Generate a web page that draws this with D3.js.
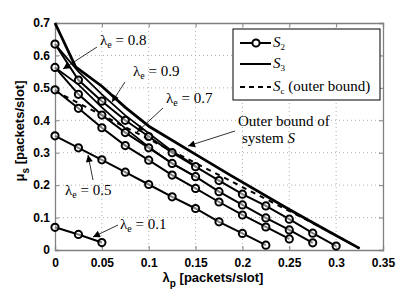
<html>
<head>
<meta charset="utf-8">
<script src="https://d3js.org/d3.v7.min.js"></script>
<style>
body { margin: 0; background: #fff; }
.tick text { font-family: "Liberation Sans", Arial, sans-serif; font-weight: bold; font-size: 12px; fill: #000; }
.ann { font-family: "Liberation Serif", "DejaVu Serif", serif; font-size: 15px; }
</style>
</head>
<body>
<svg width="415" height="293"></svg>
<script>
// values
var lambdaP = [0, 0.025, 0.05, 0.075, 0.1, 0.125, 0.15, 0.175, 0.2, 0.225, 0.25, 0.275, 0.3];
var s2_e01 = [0.07, 0.048, 0.023];
var s2_e05 = [0.352, 0.315, 0.278, 0.24, 0.202, 0.164, 0.128, 0.087, 0.051, 0.015];
var s2_e07 = [0.494, 0.437, 0.377, 0.322, 0.277, 0.231, 0.19, 0.148, 0.108, 0.071, 0.034];
var s2_e08 = [0.563, 0.48, 0.416, 0.362, 0.315, 0.267, 0.226, 0.18, 0.139, 0.099, 0.062, 0.022];
var s2_e09 = [0.635, 0.524, 0.459, 0.40, 0.35, 0.30, 0.257, 0.214, 0.172, 0.136, 0.095, 0.052, 0.012];

var s3X = [0, 0.025, 0.05, 0.075, 0.1, 0.125, 0.15];
var s3_e08 = [0.563, 0.51, 0.44, 0.375, 0.318, 0.267, 0.226];
var s3_e09 = [0.635, 0.55, 0.48, 0.415, 0.36, 0.305, 0.259];

var outerX = [0, 0.022, 0.05, 0.075, 0.101, 0.15, 0.187, 0.25, 0.2935, 0.325];
var outerY = [0.7, 0.565, 0.505, 0.44, 0.38, 0.295, 0.231, 0.125, 0.055, 0.005];

var scX = [0, 0.29, 0.325];
var scY = [0.49, 0.061, 0.005];

var xTicks = [0, 0.05, 0.1, 0.15, 0.2, 0.25, 0.3, 0.35];
var xTickLabels = ["0", "0.05", "0.1", "0.15", "0.2", "0.25", "0.3", "0.35"];
var yTicks = [0, 0.1, 0.2, 0.3, 0.4, 0.5, 0.6, 0.7];
var yTickLabels = ["0", "0.1", "0.2", "0.3", "0.4", "0.5", "0.6", "0.7"];

var svg = d3.select("svg");
var pL = 55, pT = 23, pR = 383, pB = 250;

var x = d3.scaleLinear().domain([0, 0.35]).range([pL, pR]);
var y = d3.scaleLinear().domain([0, 0.7]).range([pB, pT]);

// grid
svg.append("g").selectAll("line").data(xTicks.slice(1, -1)).enter().append("line")
  .attr("x1", d => x(d)).attr("x2", d => x(d)).attr("y1", pT).attr("y2", pB)
  .attr("stroke", "#b0b0b0").attr("stroke-width", 1).attr("stroke-dasharray", "1,3");
svg.append("g").selectAll("line").data(yTicks.slice(1, -1)).enter().append("line")
  .attr("y1", d => y(d)).attr("y2", d => y(d)).attr("x1", pL).attr("x2", pR)
  .attr("stroke", "#b0b0b0").attr("stroke-width", 1).attr("stroke-dasharray", "1,3");

// axes, matlab style ticks inside
svg.append("g").attr("transform", "translate(0," + pB + ")")
  .call(d3.axisBottom(x).tickValues(xTicks).tickFormat((d, i) => xTickLabels[i]).tickSize(-4).tickPadding(8));
svg.append("g").attr("transform", "translate(" + pL + ",0)")
  .call(d3.axisLeft(y).tickValues(yTicks).tickFormat((d, i) => yTickLabels[i]).tickSize(-4).tickPadding(5));
svg.append("g").attr("transform", "translate(0," + pT + ")")
  .call(d3.axisTop(x).tickValues(xTicks).tickFormat("").tickSize(-4));
svg.append("g").attr("transform", "translate(" + pR + ",0)")
  .call(d3.axisRight(y).tickValues(yTicks).tickFormat("").tickSize(-4));
svg.selectAll(".domain, .tick line").attr("stroke", "#808080");
svg.selectAll(".domain").attr("stroke-width", 1.3);

var line = d3.line().x(d => x(d[0])).y(d => y(d[1]));
function pairs(xs, ys) { return ys.map((v, i) => [xs[i], v]); }

// S3 curves (no markers)
[s3_e08, s3_e09].forEach(function(s) {
  svg.append("path").attr("d", line(pairs(s3X, s))).attr("fill", "none")
    .attr("stroke", "#000").attr("stroke-width", 1.8);
});

// Sc outer bound, dashed
svg.append("path").attr("d", line(pairs(scX, scY))).attr("fill", "none")
  .attr("stroke", "#000").attr("stroke-width", 2).attr("stroke-dasharray", "5,5");

// outer bound of system S
svg.append("path").attr("d", line(pairs(outerX, outerY))).attr("fill", "none")
  .attr("stroke", "#000").attr("stroke-width", 2.8);

// S2 curves with circle markers
[s2_e01, s2_e05, s2_e07, s2_e08, s2_e09].forEach(function(s) {
  var pts = pairs(lambdaP, s);
  svg.append("path").attr("d", line(pts)).attr("fill", "none")
    .attr("stroke", "#000").attr("stroke-width", 2);
  svg.append("g").selectAll("circle").data(pts).enter().append("circle")
    .attr("cx", d => x(d[0])).attr("cy", d => y(d[1])).attr("r", 3.6)
    .attr("fill", "#fff").attr("fill-opacity", 0.5).attr("stroke", "#000").attr("stroke-width", 2);
});

// annotations
svg.append("defs").append("marker").attr("id", "ah").attr("viewBox", "0 0 10 10")
  .attr("refX", 10).attr("refY", 5).attr("markerWidth", 9).attr("markerHeight", 7)
  .attr("markerUnits", "userSpaceOnUse").attr("orient", "auto")
  .append("path").attr("d", "M0,0L10,5L0,10z").attr("fill", "#000");

function arrow(x1, y1, x2, y2) {
  svg.append("line").attr("x1", x1).attr("y1", y1).attr("x2", x2).attr("y2", y2)
    .attr("stroke", "#000").attr("stroke-width", 0.8).attr("marker-end", "url(#ah)");
}
function lamLabel(tx, ty, val) {
  var t = svg.append("text").attr("class", "ann").attr("x", tx).attr("y", ty);
  t.append("tspan").text("λ");
  t.append("tspan").attr("dy", 3).attr("font-size", 10).text("e");
  t.append("tspan").attr("dy", -3).text(" = " + val);
}
lamLabel(100, 45, "0.8"); arrow(97, 47, 63, 69);
lamLabel(133, 76, "0.9"); arrow(125, 82, 112, 102);
lamLabel(166, 103, "0.7"); arrow(163, 108, 137, 132);
lamLabel(65, 195, "0.5"); arrow(93, 180, 88, 155);
lamLabel(120, 229, "0.1"); arrow(118, 225, 93, 237);

svg.append("text").attr("class", "ann").attr("x", 238).attr("y", 126).text("Outer bound of");
var st = svg.append("text").attr("class", "ann").attr("x", 242).attr("y", 143);
st.append("tspan").text("system ");
st.append("tspan").attr("font-style", "italic").text("S");
arrow(235, 131, 188, 146);

// legend
var lg = svg.append("g");
lg.append("rect").attr("x", 233).attr("y", 29).attr("width", 147).attr("height", 71)
  .attr("fill", "#fff").attr("stroke", "#000").attr("stroke-width", 1);
var legendNames = ["2", "3", "c"];
var legendY = [43, 64, 87];
legendY.forEach(function(ly, i) {
  var l = lg.append("line").attr("x1", 240).attr("x2", 271).attr("y1", ly).attr("y2", ly)
    .attr("stroke", "#000").attr("stroke-width", 2);
  if (i == 2) l.attr("stroke-dasharray", "5,4");
  if (i == 0) lg.append("circle").attr("cx", 256).attr("cy", ly).attr("r", 3.6)
    .attr("fill", "#fff").attr("stroke", "#000").attr("stroke-width", 2);
  var t = lg.append("text").attr("class", "ann").attr("font-size", 13).attr("x", 273).attr("y", ly + 4);
  t.append("tspan").attr("font-style", "italic").text("S");
  t.append("tspan").attr("dy", 3).attr("font-size", 9).text(legendNames[i]);
  if (i == 2) t.append("tspan").attr("dy", -3).text(" (outer bound)");
});

// axis labels
var xl = svg.append("text").attr("x", 213).attr("y", 282).attr("text-anchor", "middle")
  .attr("font-family", "Liberation Sans, Arial, sans-serif").attr("font-weight", "bold").attr("font-size", 13);
xl.append("tspan").text("λ");
xl.append("tspan").attr("dy", 5).attr("font-size", 10).text("p");
xl.append("tspan").attr("dy", -5).text(" [packets/slot]");

var yl = svg.append("text").attr("transform", "translate(24,131) rotate(-90)").attr("text-anchor", "middle")
  .attr("font-family", "Liberation Sans, Arial, sans-serif").attr("font-weight", "bold").attr("font-size", 13);
yl.append("tspan").text("μ");
yl.append("tspan").attr("dy", 5).attr("font-size", 10).text("s");
yl.append("tspan").attr("dy", -5).text(" [packets/slot]");
</script>
</body>
</html>
